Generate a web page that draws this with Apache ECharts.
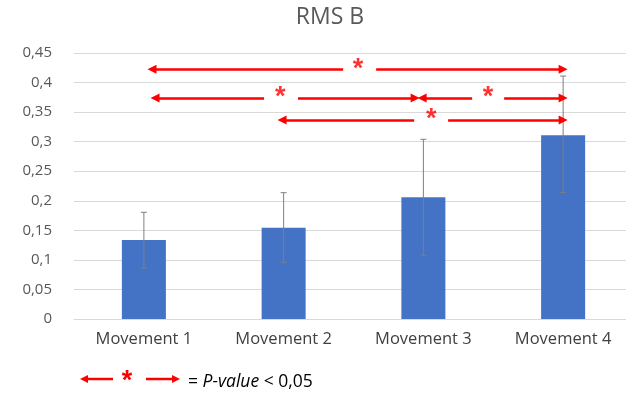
<!DOCTYPE html>
<html><head><meta charset="utf-8">
<script src="https://cdn.jsdelivr.net/npm/echarts@6/dist/echarts.min.js"></script>
<style>html,body{margin:0;padding:0;background:#fff}#c{width:626px;height:394px}</style>
</head><body><div id="c"></div>
<script>
const categories = ['Movement 1','Movement 2','Movement 3','Movement 4'];
const means = [0.1336, 0.1545, 0.2059, 0.311];
const errLow = [0.0863, 0.0959, 0.108, 0.2137];
const errHigh = [0.1805, 0.2137, 0.304, 0.411];
const yTicks = {min:0, max:0.45, interval:0.05};
// significance brackets, x in category units (0..4), y in value units
const leftArrowSegs = [[0.558,1.926,0.4224],[0.58,1.36,0.374],[2.491,2.849,0.374],[1.489,2.434,0.3367]];
const rightArrowSegs = [[2.162,3.5,0.4224],[1.603,2.441,0.374],[3.078,3.5,0.374],[2.677,3.5,0.3367]];
const stars = [[2.033,0.4224],[1.475,0.374],[2.963,0.374],[2.556,0.3367]];

const RED = '#ff0000';
const font = 'Open Sans';
const chart = echarts.init(document.getElementById('c'), null, {renderer:'canvas'});
const option = {
  animation:false,
  title:{text:'RMS B', left:325, top:1, textAlign:'center',
    textStyle:{fontFamily:font, fontSize:23, fontWeight:'normal', color:'#595959'}},
  grid:{left:74, top:53, right:-7, height:266, outerBoundsMode:'none', containLabel:false},
  xAxis:[
    {type:'category', data:categories, axisTick:{show:false},
     axisLine:{lineStyle:{color:'#d9d9d9'}},
     axisLabel:{fontFamily:font, fontSize:16.5, color:'#404040', margin:12}},
    {type:'value', min:0, max:4, show:false}
  ],
  yAxis:{type:'value', min:yTicks.min, max:yTicks.max, interval:yTicks.interval,
    axisLine:{show:false}, axisTick:{show:false},
    splitLine:{lineStyle:{color:'#d9d9d9'}},
    axisLabel:{fontFamily:font, fontSize:15, color:'#595959', margin:22,
      formatter:v=>String(+v.toFixed(2)).replace('.',',')}},
  series:[
    {type:'bar', data:means, barWidth:44, itemStyle:{color:'#4472c4'}},
    {type:'custom', data:categories.map((c,i)=>[i,errLow[i],errHigh[i]]),
     renderItem:(params,api)=>{
       const lo = api.coord([api.value(0), api.value(1)]);
       const hi = api.coord([api.value(0), api.value(2)]);
       const s = {stroke:'#7f7f7f', lineWidth:1};
       return {type:'group', children:[
         {type:'line', shape:{x1:lo[0],y1:lo[1],x2:hi[0],y2:hi[1]}, style:s},
         {type:'line', shape:{x1:lo[0]-3,y1:lo[1],x2:lo[0]+3,y2:lo[1]}, style:s},
         {type:'line', shape:{x1:hi[0]-3,y1:hi[1],x2:hi[0]+3,y2:hi[1]}, style:s}
       ]};
     }, z:5},
    {type:'lines', coordinateSystem:'cartesian2d', xAxisIndex:1, yAxisIndex:0,
     symbol:['triangle','none'], symbolSize:[9,9],
     lineStyle:{color:RED, width:2.5, opacity:1},
     data:leftArrowSegs.map(s=>({coords:[[s[0],s[2]],[s[1],s[2]]]})), z:6},
    {type:'lines', coordinateSystem:'cartesian2d', xAxisIndex:1, yAxisIndex:0,
     symbol:['none','triangle'], symbolSize:[9,9],
     lineStyle:{color:RED, width:2.5, opacity:1},
     data:rightArrowSegs.map(s=>({coords:[[s[0],s[2]],[s[1],s[2]]]})), z:6},
    {type:'scatter', xAxisIndex:1, yAxisIndex:0, symbolSize:0, data:stars,
     label:{show:true, formatter:'*', position:'inside', offset:[0,0],
       fontFamily:'Liberation Sans', fontSize:27, fontWeight:'bold', color:RED}, z:7}
  ],
  graphic:[
    {type:'line', shape:{x1:86,y1:379,x2:113,y2:379}, style:{stroke:RED, lineWidth:2.5}},
    {type:'polygon', shape:{points:[[80,379],[88,375],[88,383]]}, style:{fill:RED}},
    {type:'text', x:127, y:382, style:{text:'*', font:'bold 27px Liberation Sans', fill:RED, align:'center', verticalAlign:'middle'}},
    {type:'line', shape:{x1:146,y1:379,x2:173,y2:379}, style:{stroke:RED, lineWidth:2.5}},
    {type:'polygon', shape:{points:[[180,379],[172,375],[172,383]]}, style:{fill:RED}},
    {type:'text', x:188, y:382, style:{rich:{n:{fontFamily:font,fontSize:17.5,fill:'#000'},i:{fontFamily:font,fontSize:17.5,fontStyle:'italic',fill:'#000'}},
      text:'{n|= }{i|P-value}{n| < 0,05}', verticalAlign:'middle'}}
  ]
};
chart.setOption(option);
</script></body></html>
